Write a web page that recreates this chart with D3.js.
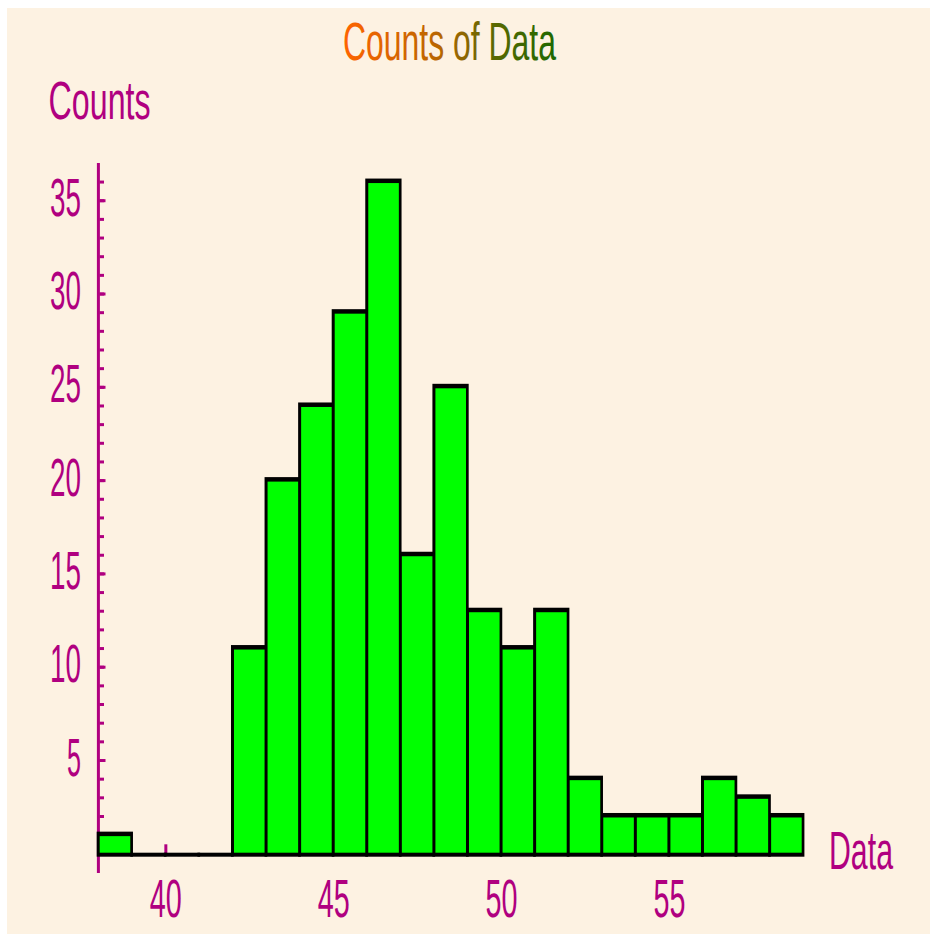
<!DOCTYPE html>
<html><head><meta charset="utf-8">
<script src="https://cdn.jsdelivr.net/npm/d3@7"></script>
<style>html,body{margin:0;padding:0;background:#fff;}svg{display:block;}</style>
</head><body>
<svg id="chart" width="930" height="934"></svg>
<script>
// ---- data ----
const binStarts = [38,39,40,41,42,43,44,45,46,47,48,49,50,51,52,53,54,55,56,57,58];
const counts    = [1,0,0,0,11,20,24,29,36,16,25,13,11,13,4,2,2,2,4,3,2];
const xTickValues = [40,45,50,55];
const yTickValues = [5,10,15,20,25,30,35];
const titleText = "Counts of Data";
const yLabelText = "Counts";
const xLabelText = "Data";

const MAG = "#B00080";
const FONT = "'Liberation Sans', Arial, sans-serif";
const svg = d3.select("#chart");
const defs = svg.append("defs");

svg.append("rect").attr("x",7).attr("y",8).attr("width",923).attr("height",926).attr("fill","#FDF2E2");

const x = d3.scaleLinear().domain([38,59]).range([96.7,801.7]);
const y = d3.scaleLinear().domain([0,37]).range([853.3,162.9]);

// y axis line
svg.append("line").attr("x1",98.4).attr("x2",98.4).attr("y1",163).attr("y2",873)
  .attr("stroke",MAG).attr("stroke-width",3);

// minor y ticks
const minorAxis = d3.axisLeft(y).tickValues(d3.range(1,37)).tickSizeInner(-4.5).tickSizeOuter(0).tickFormat("");
const gMinor = svg.append("g").attr("transform","translate(99.5,0)").call(minorAxis);
gMinor.select(".domain").remove();
gMinor.selectAll(".tick line").attr("stroke",MAG).attr("stroke-width",3);

// major y ticks + labels
const yAxis = d3.axisLeft(y).tickValues(yTickValues).tickSizeInner(-6).tickSizeOuter(0).tickPadding(18.5);
const gy = svg.append("g").attr("transform","translate(99.5,0)").call(yAxis);
gy.select(".domain").remove();
gy.selectAll(".tick line").attr("stroke",MAG).attr("stroke-width",3);
gy.selectAll(".tick text").attr("dy",null).attr("y",15)
  .attr("fill",MAG).style("font-family",FONT).style("font-size","53px")
  .attr("textLength",d => String(d).length>1 ? 31 : 14).attr("lengthAdjust","spacingAndGlyphs");

// x axis ticks + labels
const xAxis = d3.axisBottom(x).tickValues(xTickValues).tickSizeInner(-9).tickSizeOuter(0);
const gx = svg.append("g").attr("transform",`translate(1.5,${y(0)})`).call(xAxis);
gx.select(".domain").remove();
gx.selectAll(".tick line").attr("stroke",MAG).attr("stroke-width",3);
gx.selectAll(".tick text").attr("dy",null).attr("y",63.4)
  .attr("fill",MAG).style("font-family",FONT).style("font-size","53px")
  .attr("textLength",32).attr("lengthAdjust","spacingAndGlyphs");

// bars
const bars = binStarts.map((b,i)=>({b0:b,b1:b+1,v:counts[i]}));
svg.append("g").selectAll("rect").data(bars).join("rect")
  .attr("x",d=>x(d.b0)).attr("width",d=>x(d.b1)-x(d.b0)+2.7)
  .attr("y",d=>d.v>0 ? y(d.v)-3 : y(0)-0.6)
  .attr("height",d=>d.v>0 ? (y(0)+3.4)-(y(d.v)-3) : 4)
  .attr("fill","#000");
svg.append("g").selectAll("rect").data(bars.filter(d=>d.v>0)).join("rect")
  .attr("x",d=>x(d.b0)+3).attr("width",d=>x(d.b1)-x(d.b0)-3)
  .attr("y",d=>y(d.v)+1.5)
  .attr("height",d=>(y(0)-0.6)-(y(d.v)+1.5))
  .attr("fill","#00FF00");

// helper: draw a text squeezed horizontally to a target width
function fitText(str, x0, base, w, size, fill){
  const t = svg.append("text").text(str)
    .style("font-family",FONT).style("font-size",size+"px").attr("fill",fill);
  const nat = t.node().getComputedTextLength();
  t.attr("transform",`translate(${x0},${base}) scale(${w/nat},1)`);
  return t;
}

// title: orange-to-green gradient across the letters
const grad = defs.append("linearGradient").attr("id","tg")
  .attr("x1","0").attr("x2","1").attr("y1","0").attr("y2","0");
grad.append("stop").attr("offset","0%").attr("stop-color","#FF6400");
grad.append("stop").attr("offset","45%").attr("stop-color","#B86600");
grad.append("stop").attr("offset","70%").attr("stop-color","#5C6800");
grad.append("stop").attr("offset","100%").attr("stop-color","#1E6800");
fitText(titleText, 343, 60, 213, 54, "url(#tg)");

fitText(yLabelText, 48.6, 119, 102, 53, MAG);
fitText(xLabelText, 829, 869, 64, 53, MAG);
</script>
</body></html>
